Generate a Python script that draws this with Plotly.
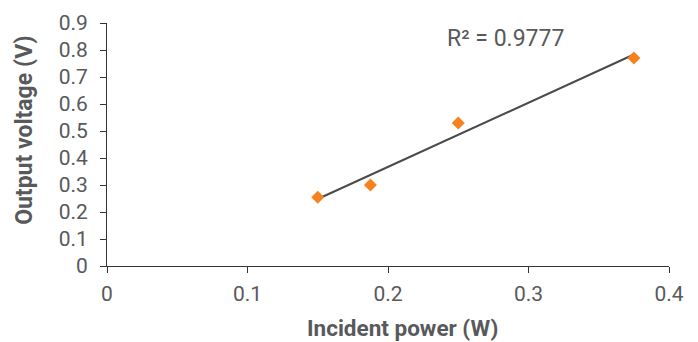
import numpy as np
import plotly.graph_objects as go

# Data
incident_power = [0.15, 0.1875, 0.25, 0.375]
output_voltage = [0.255, 0.30, 0.53, 0.77]
r2_label = "R² = 0.9777"
x_ticks = [0, 0.1, 0.2, 0.3, 0.4]
y_ticks = [0, 0.1, 0.2, 0.3, 0.4, 0.5, 0.6, 0.7, 0.8, 0.9]
x_title = "Incident power (W)"
y_title = "Output voltage (V)"

# Linear trendline
slope, intercept = np.polyfit(incident_power, output_voltage, 1)
trend_x = [min(incident_power), max(incident_power)]
trend_y = [slope * v + intercept for v in trend_x]

font_family = "Roboto, 'DejaVu Sans', sans-serif"
txt_color = "#58595b"
axis_color = "#333333"

fig = go.Figure()
fig.add_trace(go.Scatter(x=trend_x, y=trend_y, mode="lines",
                         line=dict(color="#4a4a4a", width=2), showlegend=False,
                         hoverinfo="skip"))
fig.add_trace(go.Scatter(x=incident_power, y=output_voltage, mode="markers",
                         marker=dict(symbol="diamond", size=10, color="#F5821F"),
                         showlegend=False))

fig.add_annotation(x=0.2406, y=0.844, xref="x", yref="y", text=r2_label,
                   showarrow=False, xanchor="left", yanchor="middle",
                   font=dict(family=font_family, size=23, color=txt_color))

fig.add_annotation(x=0.525, y=-0.255, xref="paper", yref="paper",
                   text="<b>" + x_title + "</b>", showarrow=False,
                   xanchor="center", yanchor="middle",
                   font=dict(family=font_family, size=22.5, color=txt_color))
fig.add_annotation(x=-0.146, y=0.56, xref="paper", yref="paper",
                   text="<b>" + y_title + "</b>", showarrow=False, textangle=-90,
                   xanchor="center", yanchor="middle",
                   font=dict(family=font_family, size=23, color=txt_color))

fig.update_layout(
    width=698, height=342,
    margin=dict(l=99, r=37, t=15, b=84),
    plot_bgcolor="white", paper_bgcolor="white",
    font=dict(family=font_family, color=txt_color, size=21),
    xaxis=dict(range=[0, 0.4], tickvals=x_ticks, ticktext=[str(v) for v in x_ticks],
               showgrid=False, zeroline=False, showline=True, linecolor=axis_color,
               linewidth=1, ticks="outside", ticklen=6, tickcolor=axis_color,
               tickfont=dict(size=21, color=txt_color), ticklabelstandoff=3,
               automargin=False),
    yaxis=dict(range=[0, 0.9], tickvals=y_ticks, ticktext=[str(v) for v in y_ticks],
               showgrid=False, zeroline=False, showline=True, linecolor=axis_color,
               linewidth=1, ticks="outside", ticklen=6, tickcolor=axis_color,
               tickfont=dict(size=21, color=txt_color), ticklabelstandoff=8,
               automargin=False),
)

fig.write_html("out.html")
